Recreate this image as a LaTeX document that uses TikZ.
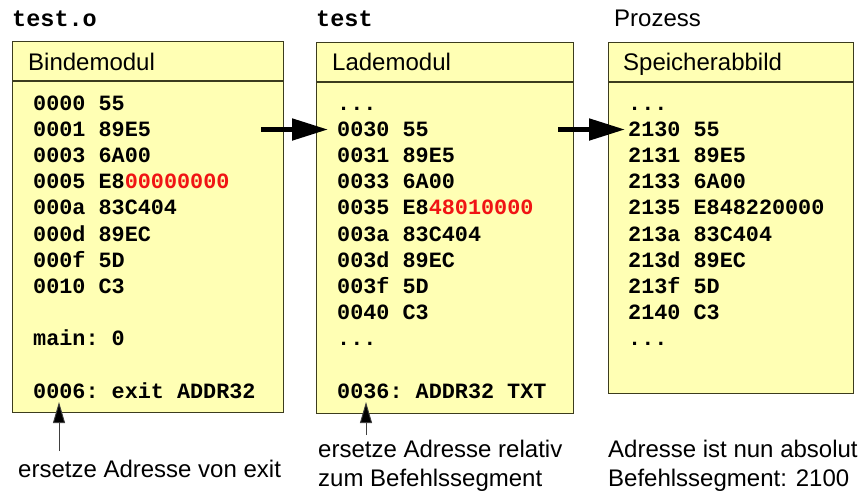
\documentclass[tikz,border=0pt]{standalone}
\usepackage{fontspec}
\setmainfont{Liberation Sans}
\setmonofont{Liberation Mono}
\usetikzlibrary{arrows.meta}
\definecolor{boxfill}{RGB}{255,255,180}
\definecolor{boxborder}{RGB}{60,60,30}
\definecolor{hired}{RGB}{240,20,20}
\newcommand{\mythreedots}{...}
\tikzset{
  box/.style={draw=boxborder, fill=boxfill, line width=1.2pt, anchor=north west, inner sep=0pt},
  divider/.style={draw=boxborder, line width=1.2pt},
  code/.style={anchor=base west, inner sep=0pt, font=\fontsize{21.8}{26}\selectfont\ttfamily\bfseries},
  titlecode/.style={anchor=base west, inner sep=0pt, font=\fontsize{23.5}{28}\selectfont\ttfamily\bfseries},
  sans/.style={anchor=base west, inner sep=0pt, font=\fontsize{24}{29}\selectfont},
  bigarrow/.style={line width=5pt, -{Triangle[length=36pt,width=21pt]}},
  smallarrow/.style={draw=black!75, line width=0.9pt, -{Triangle[length=21pt,width=12pt,fill=black]}},
}
\begin{document}
\begin{tikzpicture}[x=1pt,y=1pt]
\useasboundingbox (0,0) rectangle (863,-491);

% titles
\node[titlecode] (t1) at (12,-26) {test.o};
\node[titlecode] (t2) at (316,-26) {test};
\node[sans] (t3) at (614,-26) {Prozess};

% boxes
\node[box, minimum width=271pt, minimum height=371pt] (box1) at (12,-41) {};
\node[box, minimum width=257pt, minimum height=371pt] (box2) at (316,-42) {};
\node[box, minimum width=245pt, minimum height=351pt] (box3) at (608,-42) {};
\draw[divider] ([yshift=-40pt]box1.north west) -- ([yshift=-40pt]box1.north east);
\draw[divider] ([yshift=-40pt]box2.north west) -- ([yshift=-40pt]box2.north east);
\draw[divider] ([yshift=-40pt]box3.north west) -- ([yshift=-40pt]box3.north east);

% headers
\node[sans] (h1) at (28,-70) {Bindemodul};
\node[sans] (h2) at (332,-70) {Lademodul};
\node[sans] (h3) at (623,-70) {Speicherabbild};

% box 1 lines
\foreach \t [count=\i from 0] in {0000 55, 0001 89E5, 0003 6A00, {0005 E8\textcolor{hired}{00000000}}, 000a 83C404, 000d 89EC, 000f 5D, 0010 C3, {}, main: 0, {}, 0006: exit ADDR32}
  \node[code] (la\i) at (33,{-110-26.2*\i}) {\t};

% box 2 lines
\foreach \t [count=\i from 0] in {\mythreedots, 0030 55, 0031 89E5, 0033 6A00, {0035 E8\textcolor{hired}{48010000}}, 003a 83C404, 003d 89EC, 003f 5D, 0040 C3, \mythreedots, {}, 0036: ADDR32 TXT}
  \node[code] (lb\i) at (337,{-110-26.2*\i}) {\t};

% box 3 lines
\foreach \t [count=\i from 0] in {\mythreedots, 2130 55, 2131 89E5, 2133 6A00, 2135 E848220000, 213a 83C404, 213d 89EC, 213f 5D, 2140 C3, \mythreedots}
  \node[code] (lc\i) at (628,{-110-26.2*\i}) {\t};

% big arrows
\coordinate (s1) at (261,-129.5);
\coordinate (s2) at (558,-129.5);
\draw[bigarrow] (s1) -- ([xshift=-9pt]lb1.west |- s1);
\draw[bigarrow] (s2) -- ([xshift=-3pt]lc1.west |- s2);

% bottom notes
\node[sans] (n1) at (18,-477) {ersetze Adresse von exit};
\node[sans] (n2) at (318,-457) {ersetze Adresse relativ};
\node[sans] (n2b) at (318,-486) {zum Befehlssegment};
\node[sans] (n3) at (608,-457) {Adresse ist nun absolut};
\node[sans] (n3b) at (608,-486) {Befehlssegment: 2100};

% small arrows
\coordinate (p1) at (59,-451);
\coordinate (q1) at (59,-402);
\coordinate (p2) at (366,-435);
\coordinate (q2) at (366,-402);
\draw[smallarrow] (p1) -- (q1);
\draw[smallarrow] (p2) -- (q2);
\end{tikzpicture}
\end{document}
